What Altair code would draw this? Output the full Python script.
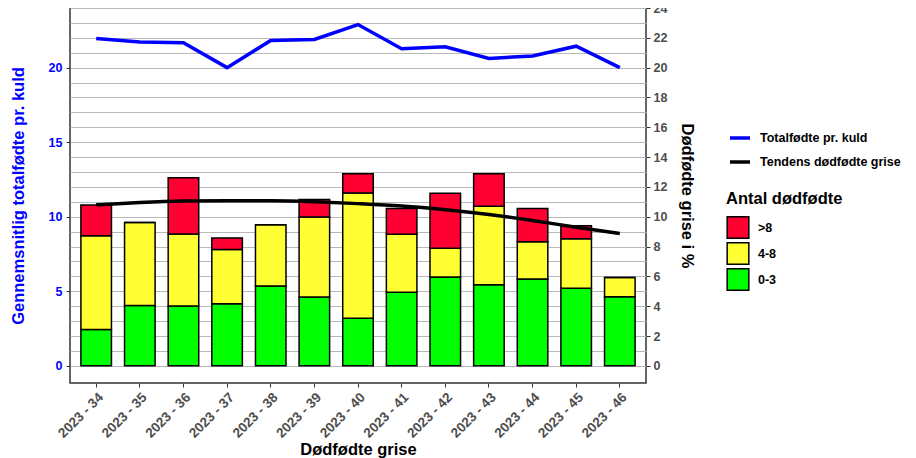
import altair as alt
import pandas as pd

weeks = ["2023 - 34", "2023 - 35", "2023 - 36", "2023 - 37", "2023 - 38", "2023 - 39", "2023 - 40",
         "2023 - 41", "2023 - 42", "2023 - 43", "2023 - 44", "2023 - 45", "2023 - 46"]
# stacked segment heights
low_0_3 = [2.44, 4.04, 4.02, 4.16, 5.36, 4.62, 3.20, 4.93, 5.96, 5.44, 5.82, 5.20, 4.64]
mid_4_8 = [6.29, 5.58, 4.82, 3.64, 4.10, 5.36, 8.40, 3.89, 1.93, 5.27, 2.51, 3.33, 1.29]
high_8 = [2.05, 0.00, 3.78, 0.78, 0.00, 1.18, 1.29, 1.74, 3.69, 2.18, 2.23, 0.87, 0.00]
totalfodte = [21.96, 21.72, 21.67, 20.00, 21.82, 21.89, 22.89, 21.27, 21.40, 20.62, 20.78, 21.44, 20.00]
tendens = [10.80, 10.95, 11.05, 11.08, 11.07, 11.00, 10.88, 10.72, 10.47, 10.15, 9.75, 9.30, 8.88]
right_ticks = list(range(0, 25))
left_ticks = [0, 5, 10, 15, 20]

cat_names = [">8", "4-8", "0-3"]
cat_colors = ["#FF0033", "#FFFF33", "#00FF00"]
line_names = ["Totalfødte pr. kuld", "Tendens dødfødte grise"]
line_colors = ["#0000FF", "#000000"]

FONT = "Liberation Sans"

rows = []
for i, w in enumerate(weeks):
    rows.append({"week": w, "cat": "0-3", "ord": 0, "val": low_0_3[i]})
    rows.append({"week": w, "cat": "4-8", "ord": 1, "val": mid_4_8[i]})
    rows.append({"week": w, "cat": ">8", "ord": 2, "val": high_8[i]})
bars_df = pd.DataFrame(rows)
total_df = pd.DataFrame({"week": weeks, "val": totalfodte, "series": line_names[0]})
trend_df = pd.DataFrame({"week": weeks, "val": tendens, "series": line_names[1]})

ydom = [-1.15, 24]
xenc = alt.X("week:N", sort=weeks,
             scale=alt.Scale(paddingInner=0.3, paddingOuter=0.25),
             axis=alt.Axis(title="Dødfødte grise", labelAngle=-45, labelFont=FONT, labelFontWeight="bold",
                           labelFontSize=13.5, labelColor="#4D4D4D", titleFont=FONT, titleFontSize=16.5,
                           titleFontWeight="bold", titleColor="#000000", tickColor="#333333",
                           tickSize=4, domain=False, labelPadding=3, titlePadding=2))

color_scale = alt.Scale(domain=line_names, range=line_colors)
line_legend = alt.Legend(title=None, orient="none", legendX=658, legendY=118, symbolType="stroke",
                         symbolSize=400, symbolStrokeWidth=3.5, labelFont=FONT, labelFontSize=12.5,
                         labelFontWeight="bold", labelColor="#000000", labelOffset=8, rowPadding=5,
                         padding=0)


def right_axis():
    return alt.Axis(orient="right", title="Dødfødte grise i %", values=right_ticks,
                    labelExpr="datum.value % 2 === 0 ? datum.label : ''", labelOverlap=False,
                    tickColor={"condition": {"test": "datum.value % 2 !== 0", "value": "transparent"},
                               "value": "#333333"},
                    tickSize=4, grid=True, gridColor="#B8B8B8", gridWidth=1.2, domain=False,
                    labelFont=FONT, labelFontSize=12.5, labelFontWeight="bold", labelColor="#4D4D4D",
                    labelPadding=3, titleFont=FONT, titleFontSize=16.5, titleFontWeight="bold",
                    titleColor="#000000", titlePadding=12)


yscale = alt.Scale(domain=ydom, nice=False, zero=False)

bars = alt.Chart(bars_df).mark_bar(stroke="#000000", strokeWidth=1.5).encode(
    x=xenc,
    y=alt.Y("val:Q", stack="zero", scale=yscale, axis=right_axis()),
    fill=alt.Fill("cat:N", scale=alt.Scale(domain=cat_names, range=cat_colors),
                  legend=alt.Legend(title="Antal dødfødte", orient="none", legendX=656, legendY=183,
                                    symbolType="square", symbolSize=470, symbolStrokeColor="#000000",
                                    symbolStrokeWidth=1.5, titleFont=FONT, titleFontSize=16.5,
                                    titleFontWeight="bold", titleColor="#000000", titlePadding=8,
                                    labelFont=FONT, labelFontSize=12.5, labelFontWeight="bold",
                                    labelColor="#000000", labelOffset=8, rowPadding=-4, padding=0)),
    order=alt.Order("ord:Q"),
)

trend = alt.Chart(trend_df).mark_line(strokeWidth=3.5, interpolate="monotone").encode(
    x=alt.X("week:N", sort=weeks),
    y=alt.Y("val:Q", scale=yscale, axis=right_axis()),
    color=alt.Color("series:N", scale=color_scale, legend=line_legend),
)

blue = alt.Chart(total_df).mark_line(strokeWidth=3.5).encode(
    x=alt.X("week:N", sort=weeks),
    y=alt.Y("val:Q", scale=yscale,
            axis=alt.Axis(orient="left", title="Gennemsnitlig totalfødte pr. kuld", values=left_ticks,
                          grid=False, domain=False, tickSize=4, tickColor="#333333",
                          labelFont=FONT, labelFontSize=12.5, labelFontWeight="bold", labelColor="#0000FF",
                          labelPadding=4, titleFont=FONT, titleFontSize=16.5, titleFontWeight="bold",
                          titleColor="#0000FF", titlePadding=22)),
    color=alt.Color("series:N", scale=color_scale, legend=line_legend),
)

inner = alt.layer(bars, trend)
chart = alt.layer(inner, blue).resolve_scale(y="independent").properties(
    width=576, height=375,
    autosize=alt.AutoSizeParams(type="none"),
    padding={"left": 62, "top": 0, "right": 262, "bottom": 76},
).configure(font=FONT).configure_view(stroke="#333333", strokeWidth=1.5)

chart.save("out.html", embed_options={"renderer": "svg", "actions": False})
